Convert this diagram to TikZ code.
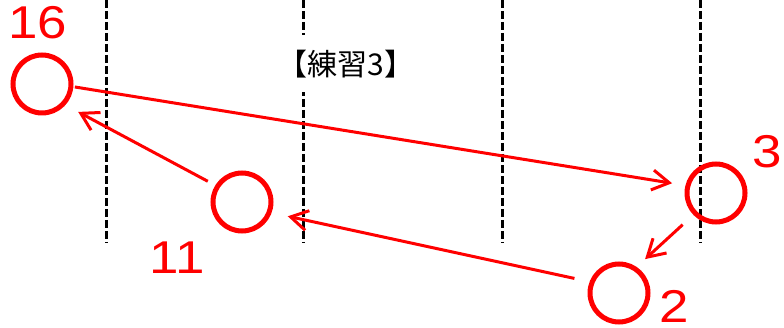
\documentclass[tikz,border=0pt]{standalone}
\usepackage{fontspec}
\setmainfont{Liberation Sans}
\newfontfamily\jpfont{Noto Sans CJK JP}
\newfontfamily\digitfont[FakeStretch=1.15]{Liberation Sans}
\usetikzlibrary{arrows.meta}

\begin{document}
\begin{tikzpicture}[x=1pt, y=-1pt]
\tikzstyle{guide} = [black, line width=3pt, dash pattern=on 8pt off 3pt]
\tikzstyle{ring}  = [circle, draw=red, line width=5pt, minimum size=58pt, inner sep=0pt]
\tikzstyle{num}   = [red, inner sep=0pt, font=\digitfont\fontsize{46}{46}\selectfont]
\tikzstyle{arrow} = [red, line width=3pt, -{Straight Barb[length=17pt, width=20pt]}]

\useasboundingbox (0,0) rectangle (784,328);

% dashed guides
\foreach \gx in {106, 303, 502, 700}
  \draw [guide] (\gx,0) -- (\gx,243);

\node (title) [fill=white, minimum height=57pt, inner xsep=1pt,
  font=\jpfont\fontsize{30}{30}\selectfont] at (346,64) {【練習3】};

\node (c16) [ring] at (42,84)  {};
\node (c11) [ring] at (242,202) {};
\node (c3)  [ring] at (716,193) {};
\node (c2)  [ring] at (619,293) {};

\node (n16) [num] at (38,23)   {16};
\node (n11) [num] at (177,258) {11};
\node (n3)  [num] at (767,152) {3};
\node (n2)  [num] at (674,306) {2};

\draw [arrow, shorten <=1.5pt,  shorten >=13.5pt] (c16.-5)  -- (c3.166);
\draw [arrow, shorten <=14.5pt, shorten >=11.5pt] (c3.224)  -- (c2.56);
\draw [arrow, shorten <=15.5pt, shorten >=16.5pt] (c2.159)  -- (c11.-20);
\draw [arrow, shorten <=8.5pt,  shorten >=14.5pt] (c11.148) -- (c16.-42);
\end{tikzpicture}
\end{document}
